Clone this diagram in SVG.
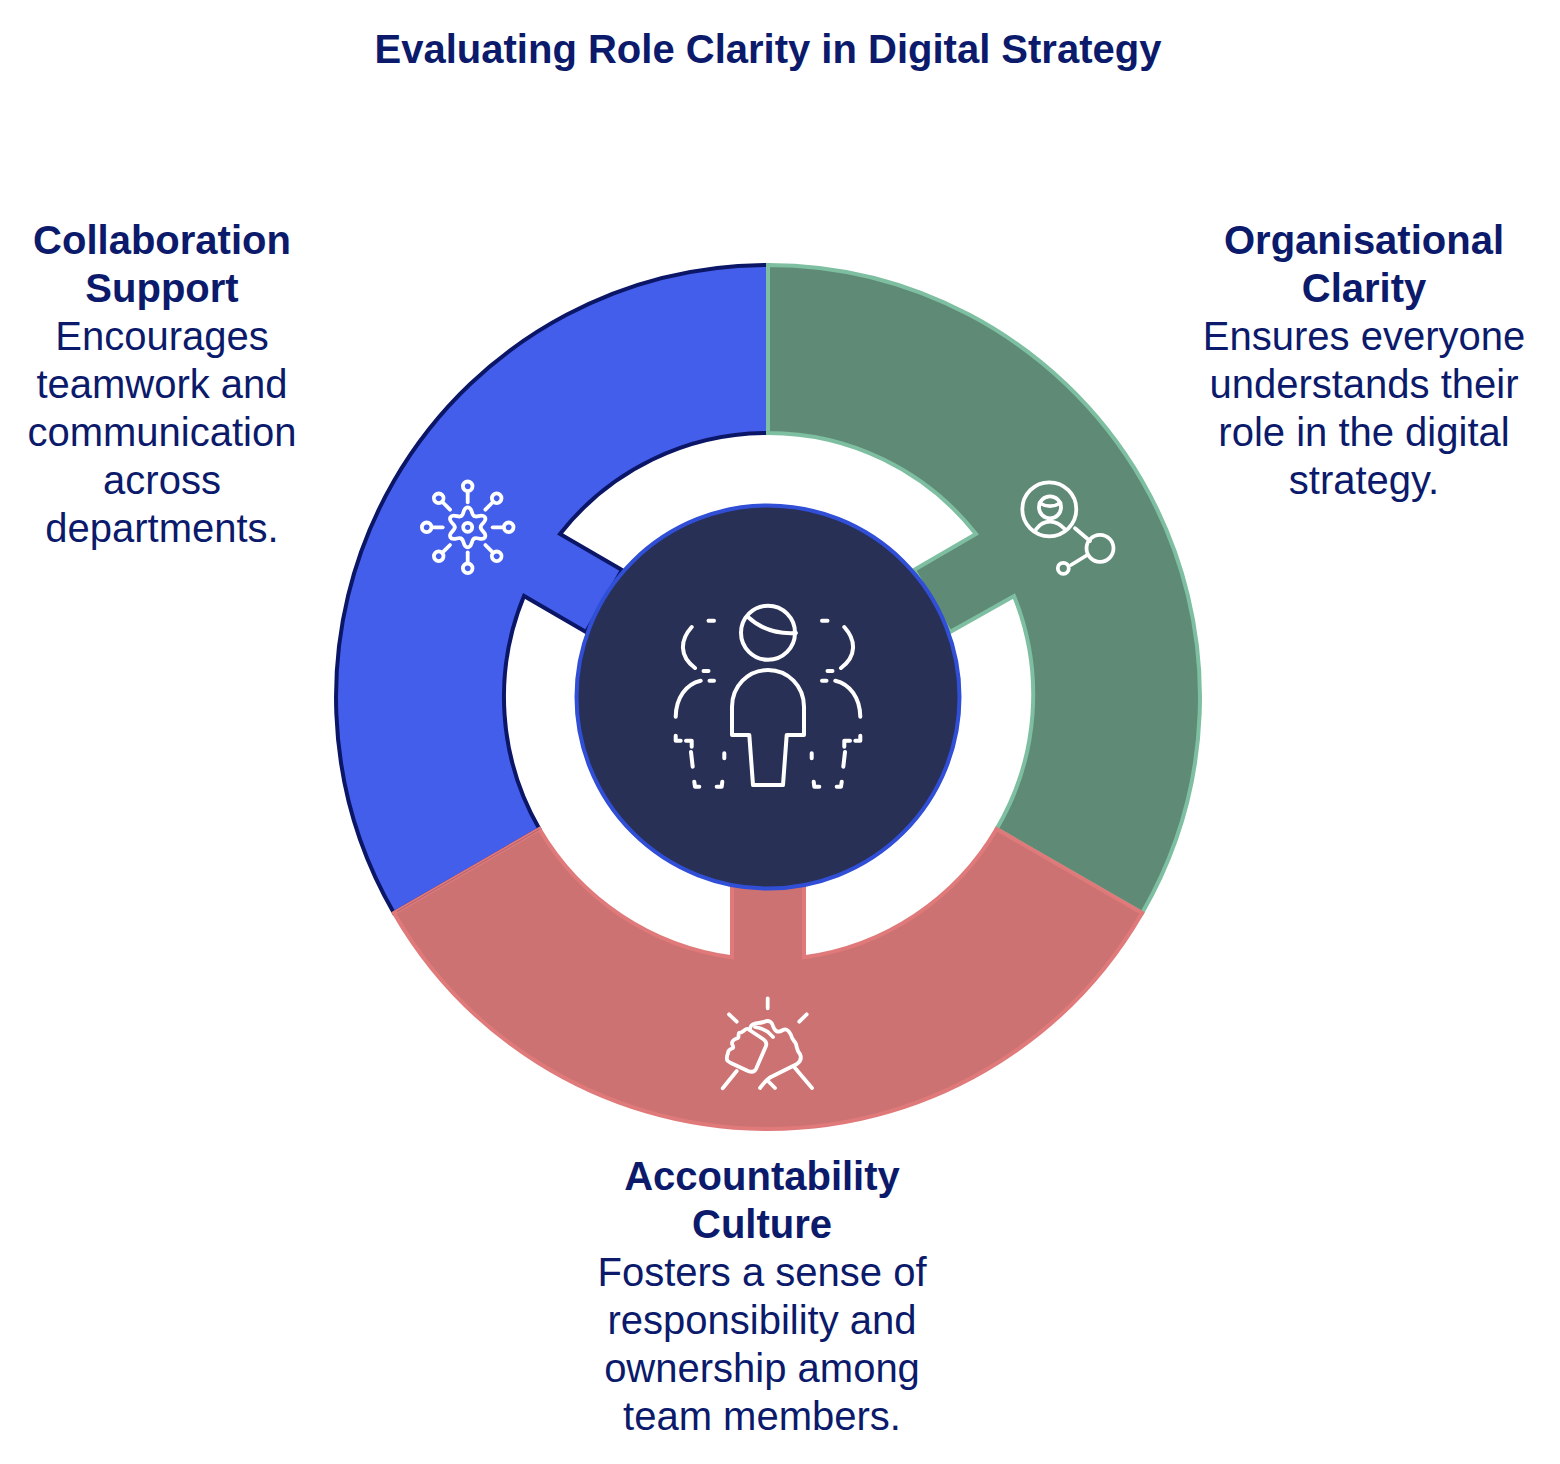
<svg xmlns="http://www.w3.org/2000/svg" width="1560" height="1464" viewBox="0 0 1560 1464">
<style>
text{font-family:"Liberation Sans",Arial,sans-serif;font-size:40px;fill:#0b1a6b;text-anchor:middle}
.b{font-weight:700}
.i{fill:none;stroke:#fff;stroke-width:4;stroke-linecap:round;stroke-linejoin:round}
.i3{fill:none;stroke:#fff;stroke-width:3.800;stroke-linecap:round;stroke-linejoin:round}
</style>
<defs>
<g id="side">
<path d="M691.700 627C680 640 679 656 695 668M708.500 620.700H714M703.500 671H708.500M709.500 680.700H714M700.700 680.700C686 684 676 698 675.700 716.700M675.700 735.700V740.700H680.700M686 740.700H691.700V746.700M691 752L692.700 766.700M694.300 781.700L695 786.700H699.300M716.700 786.700H721.700L722.300 781.700M724.300 753.300V758.300"/>
</g>
<path id="lobe" d="M-6.500-11.300C-3.500-12-5-20 0-20C5-20 3.500-12 6.500-11.300"/>
<g id="sat"><path d="M0-34V-25"/><circle cy="-41" r="4.800"/></g>
</defs>
<text class="b" x="768" y="63">Evaluating Role Clarity in Digital Strategy</text>
<g id="segments">
<g id="seg-collaboration"><path fill="#445eec" stroke="#0b1667" stroke-width="4" d="M768 265A432 432 0 0 0 393.900 913L539.400 829A264 264 0 0 1 524 596L586 632L622 570L560 534A264 264 0 0 1 768 433Z"/></g>
<g id="seg-organisational"><path fill="#5f8a75" stroke="#7dbfa0" stroke-width="4" d="M768 265A432 432 0 0 1 1142.100 913L996.600 829A264 264 0 0 0 1014 596L950 632L914 570L976 534A264 264 0 0 0 768 433Z"/></g>
<g id="seg-accountability"><path fill="#cd7272" stroke="#e07a7a" stroke-width="4" d="M393.900 913A432 432 0 0 0 1142.100 913L996.600 829A264 264 0 0 1 804 957.200V870H732V957.200A264 264 0 0 1 539.400 829Z"/><path d="M397 911.500L539.500 829.300" fill="none" stroke="#7a4a70" stroke-width="1" stroke-opacity=".5"/></g>
</g>
<g id="hub">
<circle cx="768" cy="697" r="191.500" fill="#283056" stroke="#304fd6" stroke-width="4"/>
<g class="i">
<circle cx="768" cy="632.700" r="27"/>
<path d="M748 617C762 630 780 634 796 633"/>
<path d="M732 735V707C732 686 748 670 768 670C788 670 804 686 804 707V735H786.700L783 785H753L749.300 735Z"/>
<use href="#side"/>
<use href="#side" transform="translate(1536) scale(-1 1)"/>
</g>
</g>
<g id="icon-collaboration" class="i3" transform="translate(467.700 527.300)">
<circle r="4.500"/>
<use href="#lobe"/><use href="#lobe" transform="rotate(60)"/><use href="#lobe" transform="rotate(120)"/><use href="#lobe" transform="rotate(180)"/><use href="#lobe" transform="rotate(240)"/><use href="#lobe" transform="rotate(300)"/>
<use href="#sat"/><use href="#sat" transform="rotate(45)"/><use href="#sat" transform="rotate(90)"/><use href="#sat" transform="rotate(135)"/><use href="#sat" transform="rotate(180)"/><use href="#sat" transform="rotate(225)"/><use href="#sat" transform="rotate(270)"/><use href="#sat" transform="rotate(315)"/>
</g>
<g id="icon-organisational" class="i3">
<circle cx="1049.300" cy="509.300" r="27"/>
<circle cx="1050" cy="507.300" r="11"/>
<path d="M1039.500 503C1046 507 1054 507 1060.500 503"/>
<path d="M1036 529.300C1040 524 1045 521.700 1050 521.700C1055 521.700 1060 524 1065 529.300"/>
<path d="M1075 528.300L1090 541"/>
<circle cx="1100" cy="548.300" r="13.500"/>
<path d="M1087.300 555L1071 565"/>
<circle cx="1063.300" cy="568.300" r="5.500"/>
</g>
<g id="icon-accountability" class="i3">
<path d="M767.700 998.300V1008.300M729 1014.300L736.700 1021.700M806.700 1014.300L799.300 1021.700"/>
<path d="M727 1057C726 1061 729 1062 733 1064L748 1071C753 1073 755 1071 756 1069L766 1046C767 1043 766 1041 763 1039L748 1029C745 1028 743 1033 739 1033C738 1035 739 1037 738 1038C735 1039 732 1041 732 1043C732 1045 734 1047 733 1048C730 1049 728 1051 728 1053C728 1054 727 1055 727 1057Z"/>
<path d="M750 1030C750 1026 752 1024 755 1023.500C759 1023 762 1023 765 1021.500C769 1020 772 1022 773 1026C775 1032 778 1033 783 1030C787 1028 789 1031 791 1035C792 1040 795 1041 796 1044C797 1048 797 1051 800 1054C802 1059 800 1062 797 1064L771 1077C767 1079 763 1084 760 1088"/>
<path d="M755 1027C760 1028 764 1029 768 1032L773 1037"/>
<path d="M767 1080L775 1088M795 1068L812 1088M736.700 1071L722.700 1088.300"/>
</g>
<g id="label-collaboration">
<text class="b" x="162" y="254">Collaboration</text><text class="b" x="162" y="302">Support</text>
<text x="162" y="350">Encourages</text><text x="162" y="398">teamwork and</text><text x="162" y="446">communication</text><text x="162" y="494">across</text><text x="162" y="542">departments.</text>
</g>
<g id="label-organisational">
<text class="b" x="1364" y="254">Organisational</text><text class="b" x="1364" y="302">Clarity</text>
<text x="1364" y="350">Ensures everyone</text><text x="1364" y="398">understands their</text><text x="1364" y="446">role in the digital</text><text x="1364" y="494">strategy.</text>
</g>
<g id="label-accountability">
<text class="b" x="762" y="1190">Accountability</text><text class="b" x="762" y="1238">Culture</text>
<text x="762" y="1286">Fosters a sense of</text><text x="762" y="1334">responsibility and</text><text x="762" y="1382">ownership among</text><text x="762" y="1430">team members.</text>
</g>
</svg>
